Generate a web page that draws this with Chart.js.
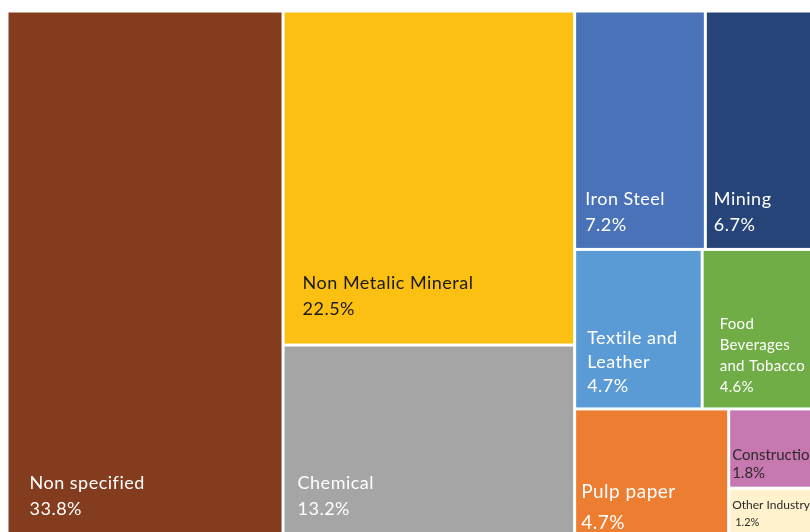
<!DOCTYPE html>
<html>
<head>
<meta charset="utf-8">
<title>Industry energy use by sector</title>
<script src="https://cdn.jsdelivr.net/npm/chart.js@4.4.1/dist/chart.umd.min.js"></script>
<style>
  html, body { margin: 0; padding: 0; background: #fff; overflow: hidden; }
  #wrap { position: absolute; left: 7px; top: 11px; width: 820px; height: 530px; }
</style>
</head>
<body>
<div id="wrap"><canvas id="treemapChart"></canvas></div>
<script>
// sector names (one entry per text line) and their share in percent
const sectors = [
  ["Non specified"],
  ["Non Metalic Mineral"],
  ["Chemical"],
  ["Iron Steel"],
  ["Mining"],
  ["Textile and", "Leather"],
  ["Food", "Beverages", "and Tobacco"],
  ["Pulp paper"],
  ["Construction"],
  ["Other Industry"]
];
const shares = [33.8, 22.5, 13.2, 7.2, 6.7, 4.7, 4.6, 4.7, 1.8, 1.2];

const tileColors = [
  "#843c1e", "#fcc012", "#a5a5a5", "#4a72b8", "#264478",
  "#5b9bd5", "#70ad47", "#ed7d31", "#c878b0", "#fff2cc"
];
const textColors = [
  "#ffffff", "#1a1a1a", "#ffffff", "#ffffff", "#ffffff",
  "#ffffff", "#ffffff", "#ffffff", "#2a2a2a", "#2a2a2a"
];

// font size, percent font size, line height, left offset, bottom padding, letter spacing
const labelStyles = [
  { size: 18, pct: 18, lh: 26, dx: 21, pad: 25, ls: 0.5 },
  { size: 18, pct: 18, lh: 26, dx: 18, pad: 29, ls: 0.5 },
  { size: 18, pct: 18, lh: 26, dx: 13, pad: 25, ls: 0.5 },
  { size: 18, pct: 18, lh: 26, dx: 9, pad: 17, ls: 0.5 },
  { size: 18, pct: 18, lh: 26, dx: 7, pad: 17, ls: 0.5 },
  { size: 18, pct: 18, lh: 24, dx: 11, pad: 15, ls: 0.5 },
  { size: 15, pct: 15, lh: 21, dx: 16, pad: 15, ls: 0.3 },
  { size: 19, pct: 19, lh: 31, dx: 5, pad: 11, ls: 0.5 },
  { size: 15, pct: 15, lh: 18, dx: 2, pad: 9, ls: 0 },
  { size: 12, pct: 11, lh: 17, dx: 2, pad: 14, ls: 0, pctDx: 3 }
];

const GAP = 3;

function worst(row, side) {
  let sum = 0, max = -Infinity, min = Infinity;
  row.forEach((r) => {
    sum += r.area;
    max = Math.max(max, r.area);
    min = Math.min(min, r.area);
  });
  const s2 = side * side;
  return Math.max((s2 * max) / (sum * sum), (sum * sum) / (s2 * min));
}

// squarified layout, keeps the input order
function squarify(values, x, y, w, h) {
  const total = values.reduce((a, b) => a + b, 0);
  const unit = (w * h) / total;
  let rest = values.map((v, i) => ({ i, area: v * unit }));
  const rects = [];
  while (rest.length) {
    const side = Math.min(w, h);
    const row = [rest[0]];
    let k = 1;
    while (k < rest.length && worst(row.concat(rest[k]), side) <= worst(row, side)) {
      row.push(rest[k]);
      k++;
    }
    rest = rest.slice(k);
    const sum = row.reduce((a, r) => a + r.area, 0);
    if (w >= h) {
      const cw = sum / h;
      let cy = y;
      row.forEach((r) => {
        const rh = r.area / cw;
        rects[r.i] = { x, y: cy, w: cw, h: rh };
        cy += rh;
      });
      x += cw;
      w -= cw;
    } else {
      const rh = sum / w;
      let cx = x;
      row.forEach((r) => {
        const rw = r.area / rh;
        rects[r.i] = { x: cx, y, w: rw, h: rh };
        cx += rw;
      });
      y += rh;
      h -= rh;
    }
  }
  return rects;
}

const treemapTiles = {
  id: "treemapTiles",
  afterDatasetsDraw(chart) {
    const { ctx, chartArea, scales } = chart;
    const aspect = (chartArea.right - chartArea.left) / (chartArea.bottom - chartArea.top);
    const rects = squarify(shares, 0, 0, aspect, 1);

    ctx.save();
    rects.forEach((r, i) => {
      const left = scales.x.getPixelForValue(r.x / aspect) + GAP / 2;
      const right = scales.x.getPixelForValue((r.x + r.w) / aspect) - GAP / 2;
      const top = scales.y.getPixelForValue(r.y) + GAP / 2;
      const bottom = scales.y.getPixelForValue(r.y + r.h) - GAP / 2;

      ctx.fillStyle = tileColors[i];
      ctx.fillRect(left, top, right - left, bottom - top);

      const st = labelStyles[i];
      const lines = sectors[i].concat([shares[i].toFixed(1) + "%"]);
      ctx.fillStyle = textColors[i];
      ctx.textBaseline = "alphabetic";
      ctx.textAlign = "left";
      ctx.letterSpacing = st.ls + "px";
      let baseline = bottom - st.pad - st.lh * (lines.length - 1);
      lines.forEach((line, j) => {
        const isPct = j === lines.length - 1;
        ctx.font = (isPct ? st.pct : st.size) + "px Lato";
        ctx.fillText(line, left + st.dx + (isPct && st.pctDx ? st.pctDx : 0), baseline);
        baseline += st.lh;
      });
    });
    ctx.restore();
  }
};

new Chart(document.getElementById("treemapChart"), {
  type: "scatter",
  data: { datasets: [{ data: [] }] },
  options: {
    responsive: true,
    maintainAspectRatio: false,
    animation: false,
    layout: { padding: 0 },
    plugins: { legend: { display: false }, tooltip: { enabled: false } },
    scales: {
      x: { type: "linear", min: 0, max: 1, display: false },
      y: { type: "linear", min: 0, max: 1, reverse: true, display: false }
    }
  },
  plugins: [treemapTiles]
});
</script>
</body>
</html>
